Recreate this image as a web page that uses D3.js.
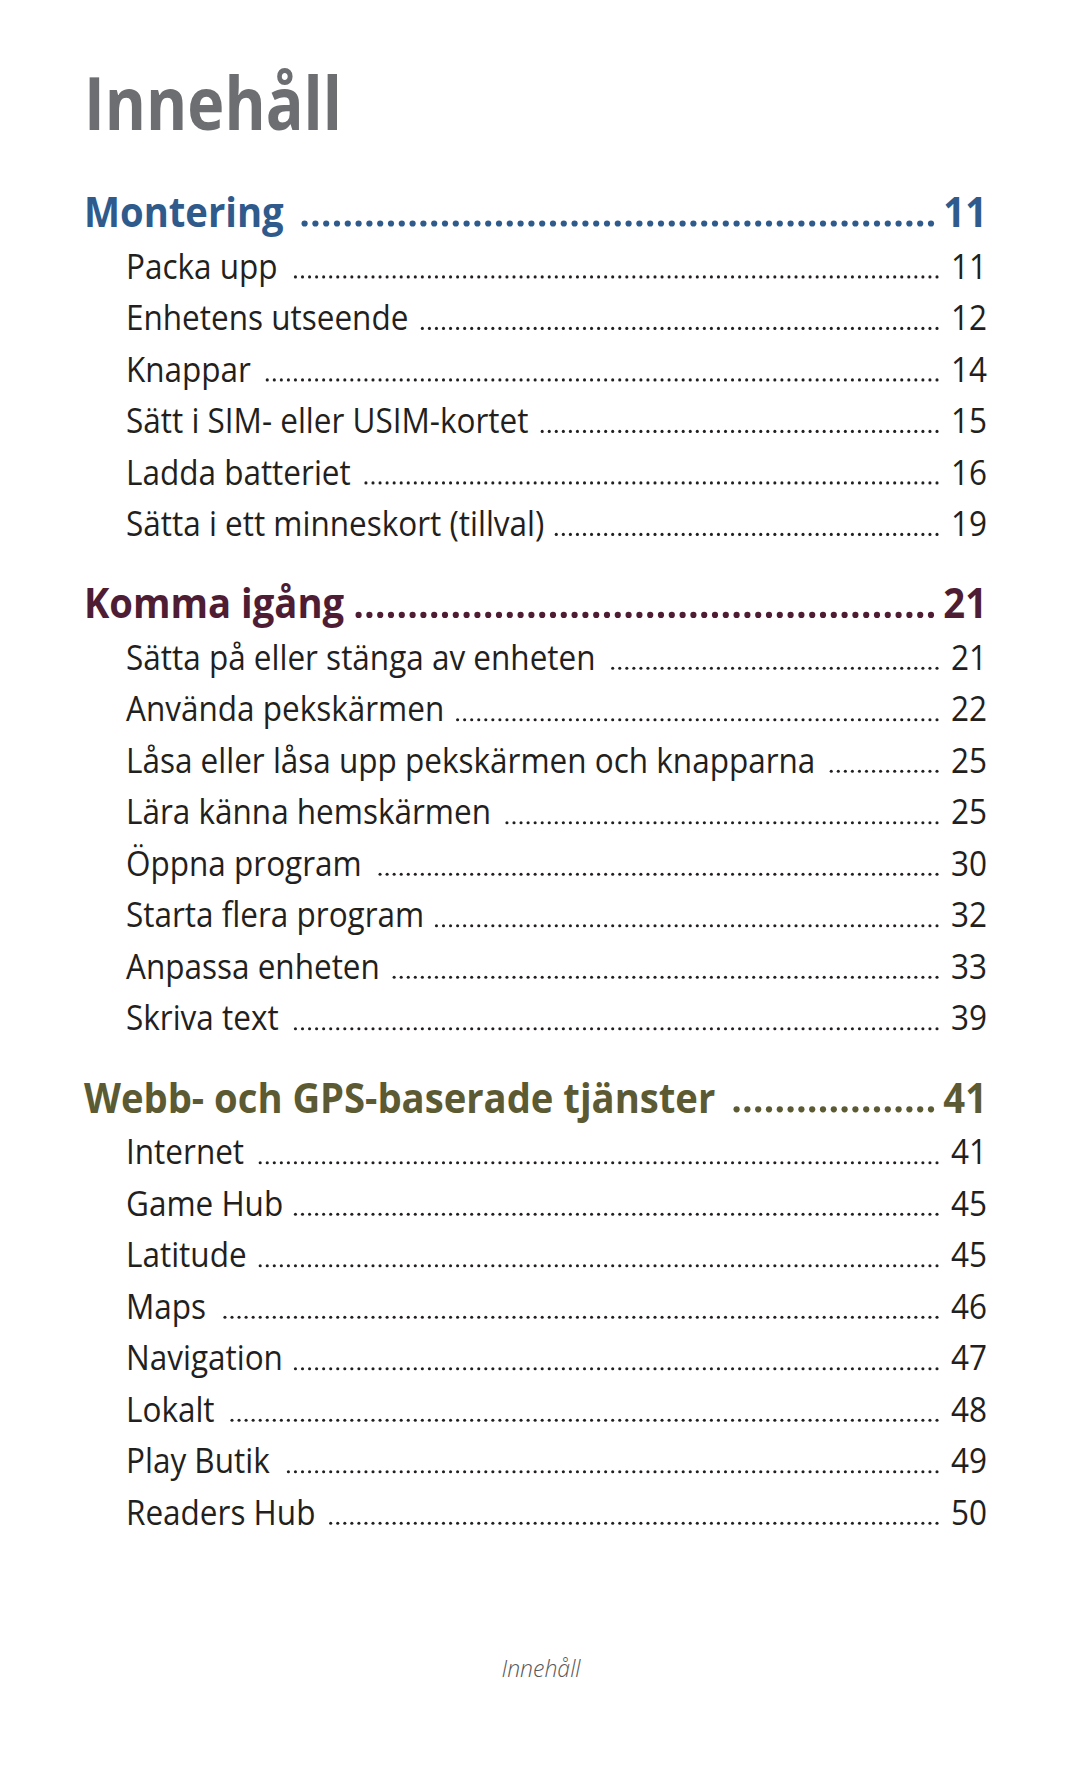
<!DOCTYPE html>
<html>
<head>
<meta charset="utf-8">
<script src="https://cdn.jsdelivr.net/npm/d3@7"></script>
<style>
html,body{margin:0;padding:0;background:#fff;}
svg{display:block;}
</style>
</head>
<body>
<svg id="chart" width="1080" height="1771"></svg>
<script>
// ---- data ----
const pageTitle = "Innehåll";
const footerText = "Innehåll";
const sectionTitles = ["Montering", "Komma igång", "Webb- och GPS-baserade tjänster"];
const sectionPages = [11, 21, 41];
const sectionColors = ["#2f5b8c", "#4e1d33", "#5b5a33"];
const entries1 = ["Packa upp", "Enhetens utseende", "Knappar", "Sätt i SIM- eller USIM-kortet", "Ladda batteriet", "Sätta i ett minneskort (tillval)"];
const pages1 = [11, 12, 14, 15, 16, 19];
const entries2 = ["Sätta på eller stänga av enheten", "Använda pekskärmen", "Låsa eller låsa upp pekskärmen och knapparna", "Lära känna hemskärmen", "Öppna program", "Starta flera program", "Anpassa enheten", "Skriva text"];
const pages2 = [21, 22, 25, 25, 30, 32, 33, 39];
const entries3 = ["Internet", "Game Hub", "Latitude", "Maps", "Navigation", "Lokalt", "Play Butik", "Readers Hub"];
const pages3 = [41, 45, 45, 46, 47, 48, 49, 50];

// ---- layout ----
const svg = d3.select("#chart");
const FONT = "'Open Sans', 'Noto Sans', sans-serif";
const SX_TITLE = 0.86, SX_HEAD = 0.91, SX_SUB = 0.9; // horizontal condense to approximate the original typeface

const entryLists = [entries1, entries2, entries3];
const pageLists = [pages1, pages2, pages3];

const rows = [];
let slot = 0;
sectionTitles.forEach((t, i) => {
  if (i > 0) slot += 0.6;
  rows.push({type: "head", text: t, page: sectionPages[i], color: sectionColors[i], slot: slot});
  slot += 1;
  entryLists[i].forEach((e, j) => {
    rows.push({type: "sub", text: e, page: pageLists[i][j], slot: slot});
    slot += 1;
  });
});

const y = d3.scaleLinear().domain([0, 1]).range([227, 227 + 51.5]);

// title
svg.append("text")
  .attr("transform", `translate(84,130) scale(${SX_TITLE},1)`)
  .attr("font-family", FONT).attr("font-weight", 700).attr("font-size", 73)
  .attr("fill", "#6d6e71").text(pageTitle);

function makeText(g, txt, size, weight, color, sx, anchor) {
  return g.append("text")
    .attr("transform", `scale(${sx},1)`)
    .attr("font-family", FONT).attr("font-weight", weight).attr("font-size", size)
    .attr("fill", color).attr("text-anchor", anchor || "start").text(txt);
}

rows.forEach(r => {
  const isHead = r.type === "head";
  const sx = isHead ? SX_HEAD : SX_SUB;
  const x0 = isHead ? 84 : 126;
  const g = svg.append("g").attr("transform", `translate(0,${y(r.slot)})`);
  const size = isHead ? 42 : 35;
  const weight = isHead ? 700 : 400;
  const color = isHead ? r.color : "#231f20";
  const lab = makeText(g.append("g").attr("transform", `translate(${x0},0)`), r.text, size, weight, color, sx);
  const textEnd = x0 + lab.node().getComputedTextLength() * sx;
  makeText(g.append("g").attr("transform", `translate(987,0)`), String(r.page), size, weight, color, sx, "end");
  // leader dots
  const step = isHead ? 10.8 : 7.05;
  const rad = isHead ? 3.1 : 1.55;
  const dotEnd = isHead ? 931 : 937;
  const dotStart = textEnd + (isHead ? 13 : 12);
  const n = Math.floor((dotEnd - dotStart) / step) + 1;
  const dots = d3.range(n).map(k => dotEnd - k * step);
  g.selectAll("circle").data(dots).join("circle")
    .attr("cx", d => d).attr("cy", isHead ? -3.5 : -1.6).attr("r", rad)
    .attr("fill", color);
});

// footer
svg.append("text")
  .attr("x", 541).attr("y", 1677).attr("text-anchor", "middle")
  .attr("font-family", FONT).attr("font-style", "italic").attr("font-weight", 300)
  .attr("font-size", 23).attr("fill", "#58595b").text(footerText);
</script>
</body>
</html>
